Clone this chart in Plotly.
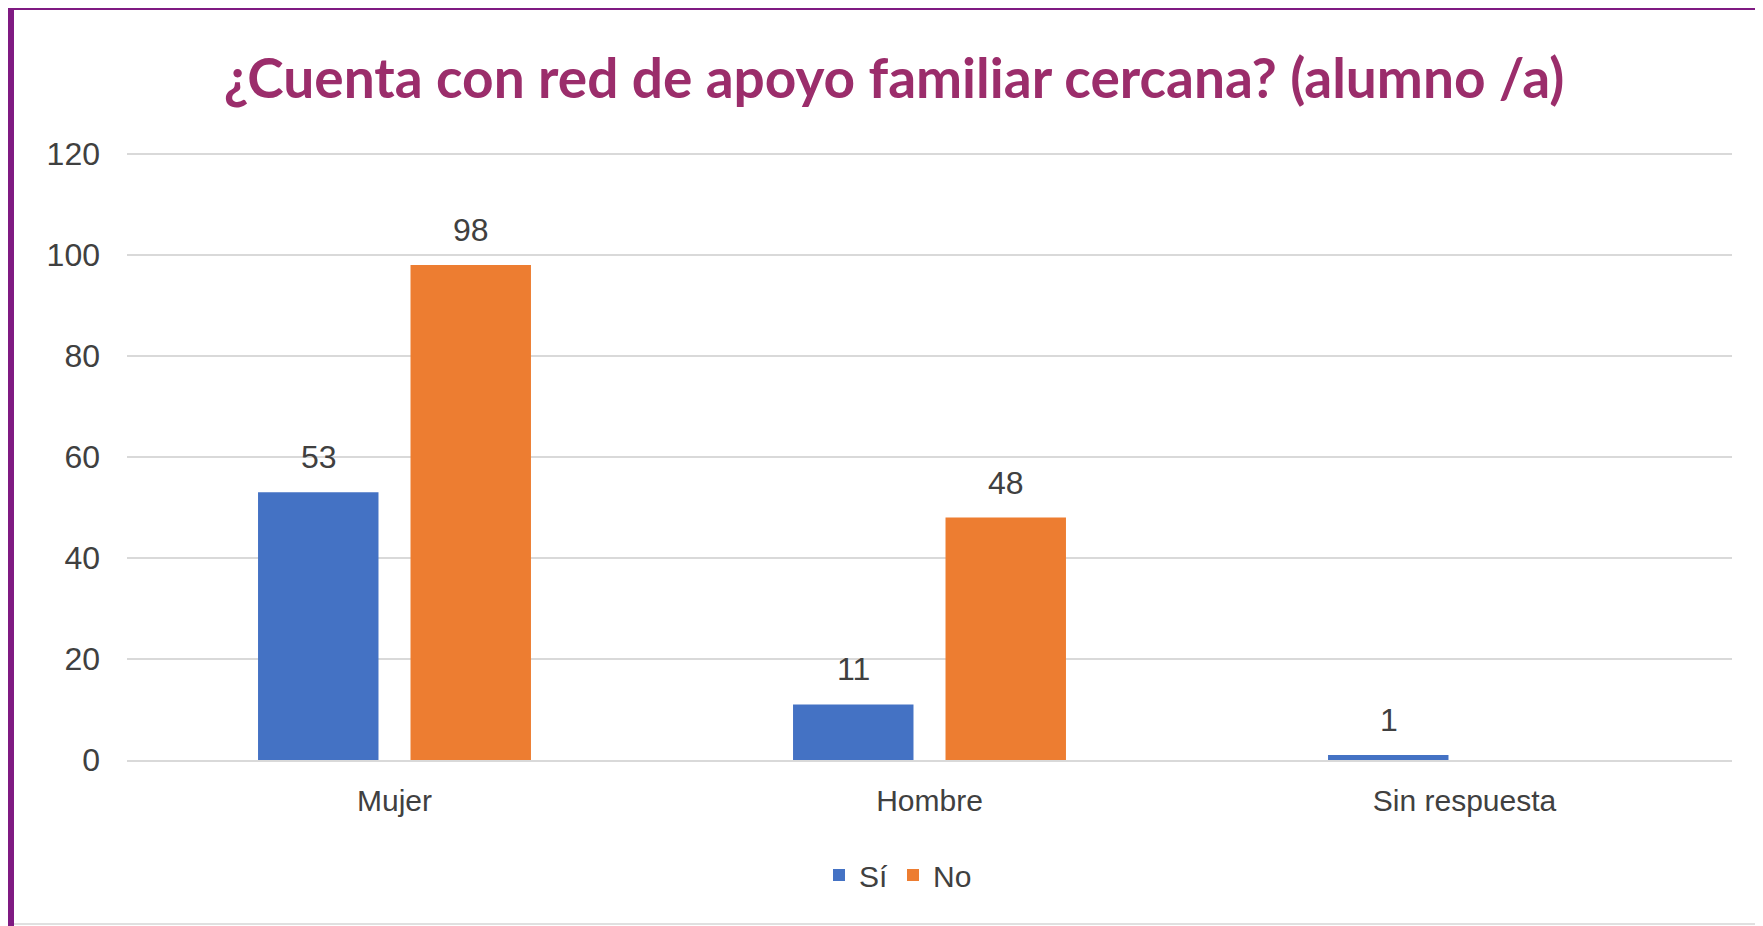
import plotly.graph_objects as go

categorias = ["Mujer", "Hombre", "Sin respuesta"]
si = [53, 11, 1]
no = [98, 48, None]
ticks_y = [0, 20, 40, 60, 80, 100, 120]

# page body adds 8px offset, so the figure is laid out 8px up/left of the screen
W, H = 1763, 926
L, R, T, B = 119, 39, 144, 174
SLOT = 76  # half of a group slot in px (bar centre offset)

def px(x):
    return (x - 8 - L) / (W - L - R)

def py(y):
    return (H - B - (y - 8)) / (H - T - B)

fig = go.Figure()
fig.add_trace(go.Bar(x=categorias, y=si, name="Sí", marker_color="#4472C4", marker_line_width=0))
fig.add_trace(go.Bar(x=categorias, y=no, name="No", marker_color="#ED7D31", marker_line_width=0))

# data labels above the bars, lifted like the Excel ones
for serie, shift in ((si, -SLOT), (no, SLOT)):
    for cat, val in zip(categorias, serie):
        if val is None:
            continue
        fig.add_annotation(x=cat, y=val, text=str(val), showarrow=False, xshift=shift,
                           yanchor="bottom", yshift=15,
                           font=dict(size=32, color="#404040"))

fig.update_layout(
    width=W, height=H,
    margin=dict(l=L, r=R, t=T, b=B),
    paper_bgcolor="white", plot_bgcolor="white",
    font=dict(family="Liberation Sans, Arial, sans-serif", color="#404040", size=30),
    title=dict(text="<b>¿Cuenta con red de apoyo familiar cercana? (alumno /a)</b>",
               x=(894 - 8) / W, y=1 - (79 - 8) / H, xanchor="center", yanchor="middle",
               font=dict(family="Lato, Open Sans, sans-serif", size=55, color="#9B2D6B")),
    barmode="group", bargap=0.43, bargroupgap=0.21,
    showlegend=True,
    legend=dict(orientation="h", x=px(898), y=py(875), xanchor="center", yanchor="middle",
                font=dict(size=30, color="#404040"), itemwidth=30, traceorder="normal"),
)

fig.update_yaxes(range=[0, 120.4], tickvals=ticks_y, showgrid=True, gridcolor="#D9D9D9",
                 gridwidth=2, zeroline=False, showline=False, ticklabelstandoff=26,
                 tickfont=dict(size=32, color="#404040"))
fig.update_xaxes(showline=True, linecolor="#D9D9D9", linewidth=2, ticklabelstandoff=13,
                 tickfont=dict(size=30, color="#404040"))

# outer frame: thick purple on top and left, faint grey on right and bottom
fig.add_shape(type="line", xref="paper", yref="paper", x0=px(11), x1=px(W + 8), y0=py(7), y1=py(7),
              line=dict(color="#7F1A82", width=6))
fig.add_shape(type="line", xref="paper", yref="paper", x0=px(11), x1=px(11), y0=py(4), y1=py(H + 8),
              line=dict(color="#7F1A82", width=6))
fig.add_shape(type="line", xref="paper", yref="paper", x0=px(1758), x1=px(1758), y0=py(10), y1=py(924),
              line=dict(color="#E0E0E0", width=2))
fig.add_shape(type="line", xref="paper", yref="paper", x0=px(14), x1=px(1758), y0=py(924), y1=py(924),
              line=dict(color="#E0E0E0", width=2))

fig.write_html("out.html")
